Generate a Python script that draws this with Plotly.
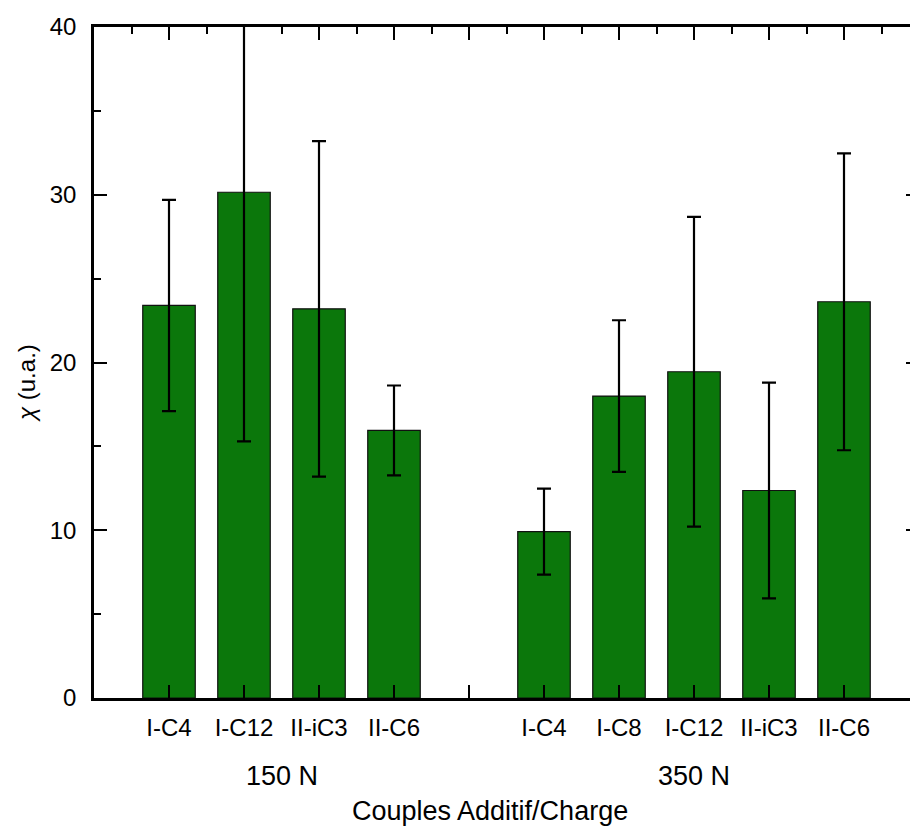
import plotly.graph_objects as go

# ---- data ----
group_names = ["150 N", "350 N"]
labels_150 = ["I-C4", "I-C12", "II-iC3", "II-C6"]
values_150 = [23.4, 30.15, 23.2, 15.95]
errors_150 = [6.3, 14.85, 10.0, 2.68]
labels_350 = ["I-C4", "I-C8", "I-C12", "II-iC3", "II-C6"]
values_350 = [9.92, 18.0, 19.45, 12.37, 23.62]
errors_350 = [2.56, 4.52, 9.23, 6.43, 8.85]
y_ticks = [0, 10, 20, 30, 40]
x_title = "Couples Additif/Charge"
y_title = "<i>χ</i> (u.a.)"

# category positions: groups separated by one empty slot
pos_150 = list(range(1, len(labels_150) + 1))
gap = len(labels_150) + 1
pos_350 = list(range(gap + 1, gap + 1 + len(labels_350)))
positions = pos_150 + pos_350
labels = labels_150 + labels_350
values = values_150 + values_350
errors = errors_150 + errors_350
all_ticks = list(range(1, pos_350[-1] + 1))
tick_text = [labels[positions.index(p)] if p in positions else "" for p in all_ticks]

FONT = "Arial, Liberation Sans, sans-serif"
GREEN = "#0b770b"

W, H = 910, 827
L, R, T, B = 94, 0, 27, 129
xmax = (W - L - R) / 75.0

fig = go.Figure()
fig.add_trace(go.Bar(
    x=positions, y=values, width=0.7,
    marker=dict(color=GREEN, line=dict(color="#111111", width=1.2)),
    error_y=dict(type="data", array=errors, visible=True,
                 color="black", thickness=2.2, width=7),
    showlegend=False, hoverinfo="skip",
))
# invisible helpers so the top and right decorative axes are drawn
fig.add_trace(go.Scatter(x=[1], y=[1], xaxis="x2", yaxis="y",
                         mode="markers", marker=dict(opacity=0),
                         showlegend=False, hoverinfo="skip"))
fig.add_trace(go.Scatter(x=[1], y=[1], xaxis="x", yaxis="y2",
                         mode="markers", marker=dict(opacity=0),
                         showlegend=False, hoverinfo="skip"))

fig.update_layout(
    width=W, height=H,
    margin=dict(l=L, r=R, t=T, b=B, pad=0),
    paper_bgcolor="white", plot_bgcolor="white",
    font=dict(family=FONT, color="black", size=24),
    bargap=0.3,
    xaxis=dict(
        range=[0, xmax], tickmode="array", tickvals=all_ticks, ticktext=tick_text,
        ticks="inside", ticklen=13, tickwidth=2, tickcolor="black",
        showline=True, linecolor="black", linewidth=2.5, mirror=False,
        showgrid=False, zeroline=False,
        tickfont=dict(size=24, family=FONT), ticklabelstandoff=6,
    ),
    xaxis2=dict(
        range=[0, xmax], overlaying="x", side="top",
        tickmode="array", tickvals=all_ticks, showticklabels=False,
        ticks="inside", ticklen=13, tickwidth=2, tickcolor="black",
        minor=dict(tickvals=[p + 0.5 for p in range(0, pos_350[-1] + 1)],
                   ticks="inside", ticklen=7, tickwidth=2, tickcolor="black",
                   showgrid=False),
        showline=True, linecolor="black", linewidth=2.5,
        showgrid=False, zeroline=False,
    ),
    yaxis=dict(
        range=[0, 40], tickmode="array", tickvals=y_ticks,
        ticks="inside", ticklen=13, tickwidth=2, tickcolor="black",
        minor=dict(dtick=5, ticks="inside", ticklen=7, tickwidth=2,
                   tickcolor="black", showgrid=False),
        showline=True, linecolor="black", linewidth=2.5, mirror=False,
        showgrid=False, zeroline=False,
        tickfont=dict(size=24, family=FONT), ticklabelstandoff=10,
    ),
    yaxis2=dict(
        range=[0, 40], overlaying="y", side="right",
        tickmode="array", tickvals=y_ticks[1:-1], showticklabels=False,
        ticks="inside", ticklen=4, tickwidth=2, tickcolor="black",
        showline=False, showgrid=False, zeroline=False,
    ),
)

annotations = [
    dict(text=group_names[0], x=(pos_150[0] + pos_150[-1]) / 2, xref="x",
         y=(698 - 776) / 671, yref="paper", showarrow=False,
         xanchor="center", yanchor="middle", font=dict(size=27, family=FONT)),
    dict(text=group_names[1], x=(pos_350[0] + pos_350[-1]) / 2, xref="x",
         y=(698 - 776) / 671, yref="paper", showarrow=False,
         xanchor="center", yanchor="middle", font=dict(size=27, family=FONT)),
    dict(text=x_title, x=(490 - L) / (W - L - R), xref="paper",
         y=(698 - 811) / 671, yref="paper", showarrow=False,
         xanchor="center", yanchor="middle", font=dict(size=27, family=FONT)),
    dict(text=y_title, x=(26 - L) / (W - L - R), xref="paper",
         y=(698 - 383) / 671, yref="paper", showarrow=False, textangle=-90,
         xanchor="center", yanchor="middle", font=dict(size=24, family=FONT)),
]
fig.update_layout(annotations=annotations)

fig.write_html(
    "out.html",
    config={"displayModeBar": False},
    post_script="document.body.style.margin='0';document.body.style.overflow='hidden';",
)
